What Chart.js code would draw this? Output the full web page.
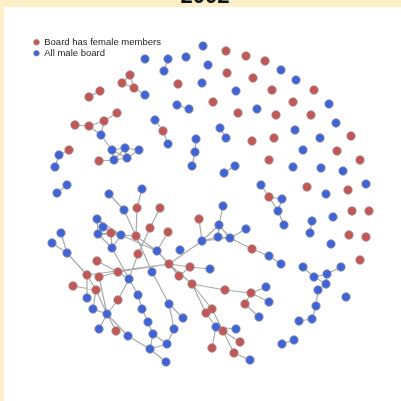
<!DOCTYPE html>
<html>
<head>
<meta charset="utf-8">
<script src="https://cdn.jsdelivr.net/npm/chart.js@4"></script>
<style>
  html, body { margin: 0; padding: 0; background: #fdf0c8; width: 401px; height: 401px; overflow: hidden; }
  #panel { position: absolute; left: 4px; top: 7px; width: 397px; height: 394px; background: #ffffff; }
  #title { position: absolute; left: 205px; top: -15px; transform: translateX(-50%); font: bold 22px "Liberation Sans", Arial, sans-serif; line-height: 22px; color: #111; white-space: nowrap; }
  #c { position: absolute; left: 0; top: 0; }
</style>
</head>
<body>
<div id="panel"></div>
<div id="title">2002</div>
<canvas id="c" width="401" height="401"></canvas>
<script>
// Node layout: id, x, y, group (1 = board has female members, 0 = all male board)
const nodeIds = [
 'n1','n2','n3','n4','n5','n6','n7','n8','n9','n10','n11','n12','n13','n14','n15','n16','n17','n18','n19','n20',
 'n21','n22','n23','n24','n25','n26','n27','n28','n29','n30','n31','n32','n33','n34','n35','n36','n37','n38',
 'r1','r2','r3','r4','r5','r6','r7','r8','r9','r10','r11','r12','r13','r14','r15','r16','r17','r18','r19','r20',
 'r21','r22','r23','r24','r25','r26','r27','r28','r29','r30','r31','r32','r33','r34','r35','r36','r37','r38','r39','r40',
 'r41','r42','r43','r44','r45','r46','r47','r48','r49','r50','r51','r52','r53','r54','r55','r56','r57','r58','r59','r60',
 'r61','r62','r63','r64',
 'c1','c2','c3','c4','c5','c6','c7','c8','c9','c10','c11','c12','c13','c14','c15','c16','c17','c18','c19','c20',
 'c21','c22','c23','c24','c25','c26','c27','c28','c29','c30','c31','c32','c33','c34','c35','c36','c37','c38','c39','c40',
 'c41','c42','c43','c44','c45','c46','c47','c48','c49','c50','c51','c52','c53','c54','c55','c56','c57','c58','c59','c60',
 'c61','c62','c63','c64','c65','c66','c67','c68','c69','c70','c71','c72','c73','c74','c75'
];
const nodeX = [
 145,168,164,186,130,122,134,145,178,100,89,203,208,202,177,189,117,104,89,75,
 101,112,125,139,127,114,99,155,163,168,69,59,55,196,195,192,67,57,
 226,246,265,281,296,314,227,253,272,236,213,293,329,238,257,276,311,336,220,226,
 295,252,274,320,351,303,337,360,269,235,224,293,321,343,366,307,348,326,261,269,
 282,278,284,352,369,333,312,310,349,366,331,360,303,314,327,341,326,318,316,312,
 299,346,282,294,
 109,124,142,137,160,150,97,103,98,111,121,112,136,168,61,52,67,157,180,138,
 97,118,152,169,190,179,210,87,99,129,73,96,192,199,223,219,202,218,230,246,
 252,269,281,225,251,266,269,245,259,206,212,216,223,236,240,212,234,250,87,93,
 107,118,99,116,128,138,142,148,153,150,167,166,174,169,183
];
const nodeY = [
 59,59,71,57,75,83,88,95,84,91,97,46,65,83,105,109,113,121,126,125,
 135,150,148,150,158,160,161,120,131,144,150,155,167,139,152,166,185,193,
 51,56,61,70,80,90,73,78,90,91,102,102,104,113,109,115,115,123,128,138,
 130,141,138,138,136,150,151,160,160,166,173,167,168,171,184,187,190,194,185,197,
 199,211,225,211,211,217,221,233,235,237,244,260,267,277,274,267,284,290,306,319,
 321,297,344,340,
 194,210,189,208,208,228,219,227,234,233,235,248,236,232,233,243,253,251,250,254,
 261,272,272,264,267,276,269,275,277,279,286,290,284,219,206,225,241,237,238,229,
 249,256,264,290,293,287,302,304,317,313,309,327,331,329,342,348,353,360,298,309,
 314,300,329,331,336,295,309,322,334,349,344,362,329,304,318
];
const nodeGroup = [
 0,0,0,0,1,1,1,0,1,1,1,0,0,0,0,0,1,1,1,1,
 0,0,0,0,0,0,1,0,1,0,1,0,0,0,0,0,0,0,
 1,1,1,0,0,1,1,1,1,0,1,1,0,1,0,1,1,0,0,0,
 0,1,1,0,1,0,1,1,1,0,0,0,0,0,0,1,1,0,0,1,
 0,0,0,1,1,0,0,0,1,1,0,1,0,0,0,0,0,0,0,0,
 0,0,0,0,
 0,0,0,1,1,1,0,0,0,1,0,0,1,1,0,0,0,0,0,1,
 1,1,0,1,1,1,0,1,1,0,1,1,1,1,0,0,0,0,0,0,
 1,0,0,1,1,0,0,1,0,1,1,0,1,0,1,1,1,0,0,0,
 0,1,0,1,0,0,0,0,0,0,0,0,0,0,0
];
// Board interlock edges (pairs of node ids)
const edgeFrom = [
 'n2','n5','n6','n5','n7','n10','n15','n20','n19','n18','n19','n18','n21','n22','n23','n22','n22','n23','n24','n26','n27','n23',
 'n28','n29','n31','n32','n34','n35','n37',
 'r19','r30','r39','r40','r40','r41','r42','r47','r53','r54','r55','r55','r54','r57','r58','r59','r60','r63',
 'c1','c3','c2','c4','c5','c6','c20','c12','c7','c7','c7','c8','c8','c9','c9','c10','c11','c10','c9','c11','c11','c13','c13','c14',
 'c15','c16','c17','c21','c28','c22','c29','c22','c18','c24','c24','c24','c25','c25','c24','c33','c44','c45','c45','c45','c48',
 'c33','c33','c50','c51','c52','c52','c52','c53','c53','c57','c34','c35','c36','c36','c36','c37','c38','c37','c39','c39','c41','c42',
 'c28','c28','c31','c32','c32','c60','c61','c61','c61','c61','c62','c29','c65','c30','c66','c67','c68','c69','c69','c70','c70','c71','c73','c74','c23'
];
const edgeTo = [
 'n3','n6','n7','n7','n8','n11','n16','n19','n18','n17','n21','n21','n22','n23','n24','n26','n25','n25','n25','n25','n26','n26',
 'n29','n30','n32','n33','n35','n36','n38',
 'r20','r31','r40','r41','r42','r42','r43','r48','r54','r55','r56','r57','r57','r58','r59','r60','r61','r64',
 'c2','c4','c13','c13','c6','c20','c30','c30','c9','c10','c11','c10','c11','c10','c12','c12','c12','c11','c11','c13','c18','c18','c23','c18',
 'c17','c17','c28','c22','c24','c24','c22','c30','c24','c37','c25','c26','c26','c27','c33','c44','c45','c46','c47','c48','c49',
 'c50','c51','c52','c53','c53','c54','c56','c55','c57','c58','c37','c36','c37','c38','c39','c38','c39','c39','c40','c41','c42','c43',
 'c59','c32','c32','c61','c60','c61','c63','c64','c65','c62','c30','c61','c70','c66','c67','c68','c69','c70','c71','c71','c72','c73','c74','c75','c74'
];
const seriesLabels = ['Board has female members', 'All male board'];

const idx = {};
nodeIds.forEach((id, i) => idx[id] = i);
const femalePts = [], malePts = [];
nodeIds.forEach((id, i) => {
  const p = {x: nodeX[i], y: nodeY[i]};
  (nodeGroup[i] === 1 ? femalePts : malePts).push(p);
});
const edgePts = [];
edgeFrom.forEach((a, k) => {
  const i = idx[a], j = idx[edgeTo[k]];
  if (i === undefined || j === undefined) return;
  edgePts.push({x: nodeX[i], y: nodeY[i]}, {x: nodeX[j], y: nodeY[j]}, {x: null, y: null});
});

new Chart(document.getElementById('c'), {
  type: 'scatter',
  data: {
    datasets: [
      { label: seriesLabels[0], data: femalePts, backgroundColor: '#c45656', borderColor: '#9a8a8a', borderWidth: 0.8, pointRadius: 4.2, order: 0 },
      { label: seriesLabels[1], data: malePts, backgroundColor: '#3f64d8', borderColor: '#8a8fa0', borderWidth: 0.8, pointRadius: 4.2, order: 1 },
      { label: 'edges', data: edgePts, showLine: true, spanGaps: false, borderColor: '#a9a9a9', borderWidth: 1.2, pointRadius: 0, order: 5 }
    ]
  },
  options: {
    responsive: false,
    animation: false,
    events: [],
    layout: { autoPadding: false, padding: { left: 32, top: 36, right: 0, bottom: 0 } },
    scales: {
      x: { type: 'linear', display: false, min: 32, max: 401 },
      y: { type: 'linear', display: false, min: 36, max: 401, reverse: true }
    },
    plugins: {
      tooltip: { enabled: false },
      legend: {
        position: 'chartArea',
        align: 'start',
        title: { display: true, text: '', padding: { top: 30, bottom: 0 }, font: { size: 5, lineHeight: 1.2 } },
        labels: {
          usePointStyle: true,
          pointStyle: 'circle',
          boxWidth: 6,
          boxHeight: 4,
          padding: 1.5,
          color: '#222',
          font: { size: 9.5, family: 'Liberation Sans' },
          filter: (item) => item.datasetIndex < 2
        }
      }
    }
  }
});
</script>
</body>
</html>
